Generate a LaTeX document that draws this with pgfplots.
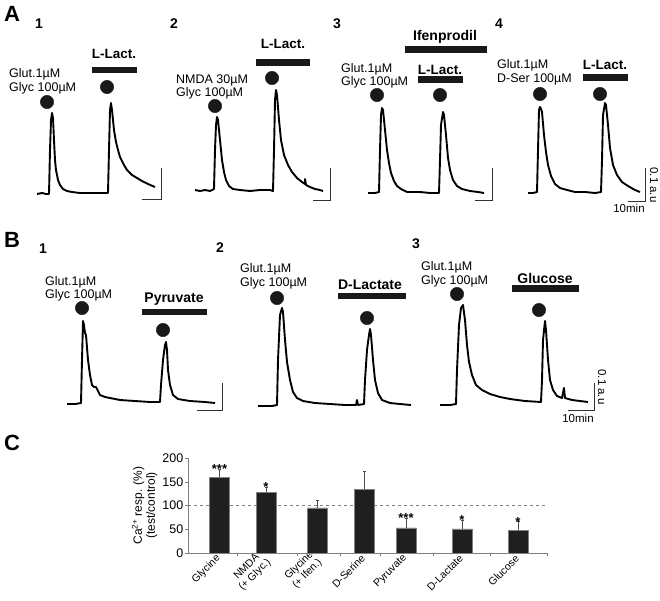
\documentclass[border=0pt]{standalone}
\usepackage{pgfplots}
\pgfplotsset{compat=1.18}
\usepackage{fontspec}
\setmainfont{Liberation Sans}
\newcommand{\panfont}{\fontsize{22}{24}\selectfont\bfseries}
\newcommand{\pnumfont}{\fontsize{14}{16}\selectfont\bfseries}
\newcommand{\drugfont}{\fontsize{14}{16}\selectfont\bfseries}
\newcommand{\lacfont}{\fontsize{13.5}{15}\selectfont\bfseries}
\newcommand{\labfont}{\fontsize{12.5}{14}\selectfont}
\newcommand{\scafont}{\fontsize{11.5}{12}\selectfont}
\begin{document}
\begin{tikzpicture}
\useasboundingbox (0,0) rectangle (660pt,600pt);
\begin{axis}[at={(0pt,0pt)}, anchor=south west, width=660pt, height=600pt,
  scale only axis, hide axis, xmin=0, xmax=660, ymin=0, ymax=600,
  y dir=reverse, clip=false]
% ---------- traces ----------
\pgfplotsset{tr/.style={black, line width=1.9pt, line join=round}}
\pgfplotsset{sb/.style={black!80, line width=0.8pt}}
\pgfplotsset{st/.style={black!90, line width=6.5pt}}
\pgfplotsset{dot/.style={only marks, mark=*, mark size=6.7pt, black!90, mark options={draw=black!90, fill=black!90}}}
% A1
\addplot[tr] coordinates {(37,194)(42,193)(46,194)(49,194)(50,150)(51,120)(52,113)(53,118)(54,140)(55,160)(56,170)(58,180)(60,185)(63,189)(67,191)(72,192)(80,193)(90,193)(100,193)(108,193)(109,150)(110,110)(111,103)(112,110)(114,130)(116,142)(118,150)(120,157)(124,165)(127,170)(132,175)(137,178)(142,181)(148,184)(155,187)};
\addplot[sb] coordinates {(142,199)(161,199)(161,168)};
% A2
\addplot[tr] coordinates {(195,190)(200,191)(205,190)(210,191)(214,189)(215,150)(216,125)(217,117)(218,120)(220,140)(222,160)(224,172)(226,180)(229,186)(233,189)(240,190)(250,191)(260,190)(270,190)(273,191)(274,150)(275,100)(276,90)(277,95)(279,120)(281,140)(284,155)(288,165)(292,172)(297,178)(302,182)(305,184)(305,179)(306,185)(310,187)(315,189)(320,190)(323,191)};
\addplot[sb] coordinates {(313,200)(330,200)(330,168)};
% A3
\addplot[tr] coordinates {(368,193)(375,193)(379,192)(380,150)(381,115)(382,108)(383,110)(385,130)(387,150)(389,163)(391,173)(394,181)(397,186)(401,189)(407,192)(420,192)(430,193)(439,193)(440,160)(441,125)(443,112)(444,115)(446,135)(448,158)(450,170)(453,180)(457,186)(462,189)(470,191)(478,192)(484,193)};
\addplot[sb] coordinates {(475,200)(492,200)(492,168)};
% A4
\addplot[tr] coordinates {(528,193)(533,193)(537,192)(538,150)(539,110)(540,107)(541,109)(542,112)(544,135)(546,152)(548,165)(551,176)(555,184)(560,188)(567,190)(575,192)(585,192)(595,193)(601,192)(602,160)(603,115)(605,103)(606,105)(608,125)(610,148)(613,165)(617,175)(622,182)(628,186)(635,190)(640,192)};
\addplot[sb] coordinates {(628,201)(645,201)(645,168)};
% B1
\addplot[tr] coordinates {(67,404)(75,404)(81,403)(82,360)(83,321)(84,325)(85,333)(86,335)(88,360)(90,375)(92,385)(94,387)(96,387)(98,391)(100,395)(105,397)(110,398)(120,400)(135,401)(150,402)(160,402)(161,385)(163,360)(165,345)(166,342)(167,350)(168,370)(170,385)(173,395)(178,399)(190,401)(205,402)(215,403)};
\addplot[sb] coordinates {(197,410)(222,410)(222,383)};
% B2
\addplot[tr] coordinates {(258,406)(265,406)(272,406)(277,405)(278,360)(280,315)(282,308)(283,312)(285,340)(287,362)(290,380)(293,392)(297,398)(303,401)(315,403)(330,404)(345,405)(356,405)(357,400)(358,405)(364,404)(365,380)(367,350)(369,335)(370,329)(371,335)(373,360)(375,380)(378,393)(382,400)(390,403)(400,404)(411,405)};
% B3
\addplot[tr] coordinates {(440,405)(450,405)(456,404)(457,370)(459,325)(461,308)(463,305)(465,320)(467,345)(469,362)(472,375)(476,385)(482,390)(490,394)(500,397)(510,399)(525,401)(541,402)(542,380)(543,340)(545,321)(546,330)(548,360)(550,380)(553,390)(557,396)(562,398)(564,388)(565,398)(572,400)(580,401)(588,402)};
\addplot[sb] coordinates {(568,410)(594,410)(594,383)};
% stimulus bars
\addplot[st] coordinates {(92,70)(137,70)};
\addplot[st] coordinates {(256,62.5)(310,62.5)};
\addplot[st] coordinates {(405,49.5)(487,49.5)};
\addplot[st] coordinates {(418,79.5)(463,79.5)};
\addplot[st] coordinates {(583,77.5)(628,77.5)};
\addplot[st] coordinates {(142,312)(207,312)};
\addplot[st] coordinates {(338,296)(406,296)};
\addplot[st] coordinates {(512,288.5)(579,288.5)};
% application dots
\addplot[dot] coordinates {(47,102)(107,87)(215,106)(272,78)(377,95)(440,95)(540,94)(600,94)(82,308)(163,330)(277,298)(367,318)(457,294)(539,310)};
% ---------- text ----------
\node[anchor=base west, inner sep=0, font=\panfont] at (axis cs:4,21) {A};
\node[anchor=base west, inner sep=0, font=\panfont] at (axis cs:4,247) {B};
\node[anchor=base west, inner sep=0, font=\panfont] at (axis cs:4,450) {C};
\node[anchor=base west, inner sep=0, font=\pnumfont] at (axis cs:35,28) {1};
\node[anchor=base west, inner sep=0, font=\pnumfont] at (axis cs:170,28) {2};
\node[anchor=base west, inner sep=0, font=\pnumfont] at (axis cs:333,28) {3};
\node[anchor=base west, inner sep=0, font=\pnumfont] at (axis cs:495,28) {4};
\node[anchor=base west, inner sep=0, font=\pnumfont] at (axis cs:39,253) {1};
\node[anchor=base west, inner sep=0, font=\pnumfont] at (axis cs:216,252) {2};
\node[anchor=base west, inner sep=0, font=\pnumfont] at (axis cs:412,248) {3};
% A labels
\node[anchor=base west, inner sep=0, font=\labfont] at (axis cs:9,77) {Glut.1µM};
\node[anchor=base west, inner sep=0, font=\labfont] at (axis cs:9,91) {Glyc 100µM};
\node[anchor=base, inner sep=0, font=\lacfont] at (axis cs:114,58) {L-Lact.};
\node[anchor=base west, inner sep=0, font=\labfont] at (axis cs:176,83) {NMDA 30µM};
\node[anchor=base west, inner sep=0, font=\labfont] at (axis cs:176,96) {Glyc 100µM};
\node[anchor=base, inner sep=0, font=\lacfont] at (axis cs:283,48) {L-Lact.};
\node[anchor=base west, inner sep=0, font=\labfont] at (axis cs:341,72) {Glut.1µM};
\node[anchor=base west, inner sep=0, font=\labfont] at (axis cs:341,85) {Glyc 100µM};
\node[anchor=base, inner sep=0, font=\drugfont] at (axis cs:445,40) {Ifenprodil};
\node[anchor=base, inner sep=0, font=\lacfont] at (axis cs:440,74) {L-Lact.};
\node[anchor=base west, inner sep=0, font=\labfont] at (axis cs:497,68) {Glut.1µM};
\node[anchor=base west, inner sep=0, font=\labfont] at (axis cs:497,82) {D-Ser 100µM};
\node[anchor=base, inner sep=0, font=\lacfont] at (axis cs:605,69) {L-Lact.};
\node[rotate=-90, inner sep=0, font=\scafont] at (axis cs:654,185) {0.1 a.u};
\node[inner sep=0, font=\scafont] at (axis cs:629,208) {10min};
% B labels
\node[anchor=base west, inner sep=0, font=\labfont] at (axis cs:45,285) {Glut.1µM};
\node[anchor=base west, inner sep=0, font=\labfont] at (axis cs:45,298) {Glyc 100µM};
\node[anchor=base, inner sep=0, font=\drugfont] at (axis cs:174,302) {Pyruvate};
\node[anchor=base west, inner sep=0, font=\labfont] at (axis cs:240,272) {Glut.1µM};
\node[anchor=base west, inner sep=0, font=\labfont] at (axis cs:240,286) {Glyc 100µM};
\node[anchor=base, inner sep=0, font=\drugfont] at (axis cs:370,289) {D-Lactate};
\node[anchor=base west, inner sep=0, font=\labfont] at (axis cs:421,270) {Glut.1µM};
\node[anchor=base west, inner sep=0, font=\labfont] at (axis cs:421,284) {Glyc 100µM};
\node[anchor=base, inner sep=0, font=\drugfont] at (axis cs:545,283) {Glucose};
\node[rotate=-90, inner sep=0, font=\scafont] at (axis cs:602,387) {0.1 a.u};
\node[inner sep=0, font=\scafont] at (axis cs:578,418) {10min};
\end{axis}
% ---------- panel C ----------
\begin{axis}[at={(188pt,47pt)}, anchor=south west, width=359pt, height=95pt,
  scale only axis, xmin=188, xmax=547, ymin=0, ymax=200,
  axis x line=bottom, axis y line=left, axis line style={gray, -},
  /pgf/number format/assume math mode=true,
  ytick={0,50,100,150,200},
  yticklabel style={font=\fontsize{12.5}{13}\selectfont, inner sep=1.5pt},
  tick align=outside, major tick length=3pt, tick style={gray},
  xtick={219.5,266,317,364,406,462,518},
  xticklabels={Glycine, NMDA\\(+ Glyc.), Glycine\\(+ Ifen.), D-Serine, Pyruvate, D-Lactate, Glucose},
  xticklabel style={rotate=45, anchor=east, align=center, font=\fontsize{10.5}{11.5}\selectfont, inner sep=1pt},
  x tick style={draw=none},
  extra x ticks={237,297,340,380,433,490,547},
  extra x tick labels={},
  extra x tick style={x tick style={draw=gray}},
  ylabel={Ca\textsuperscript{2+} resp. (\%)\\(test/control)},
  ylabel style={align=center, font=\fontsize{12}{13}\selectfont},
  clip=false]
\addplot[gray, dashed, line width=0.8pt] coordinates {(188,100)(547,100)};
\addplot[ybar, bar width=20, fill=black!88, draw=gray,
  error bars/.cd, y dir=plus, y explicit,
  error bar style={black!70, line width=0.6pt},
  error mark options={rotate=90, mark size=1.5pt, black!70}]
  coordinates {(219.5,160) +- (0,17) (266,128) +- (0,11) (317,95) +- (0,17)
  (364,134) +- (0,39) (406,53) +- (0,21) (462,51) +- (0,19) (518,48) +- (0,19)};
\node[anchor=base, font=\fontsize{13}{14}\selectfont\bfseries, inner sep=0, yshift=-5pt] at (axis cs:219.5,177) {***};
\node[anchor=base, font=\fontsize{13}{14}\selectfont\bfseries, inner sep=0, yshift=-5pt] at (axis cs:266,139) {*};
\node[anchor=base, font=\fontsize{13}{14}\selectfont\bfseries, inner sep=0, yshift=-5pt] at (axis cs:406,74) {***};
\node[anchor=base, font=\fontsize{13}{14}\selectfont\bfseries, inner sep=0, yshift=-5pt] at (axis cs:462,70) {*};
\node[anchor=base, font=\fontsize{13}{14}\selectfont\bfseries, inner sep=0, yshift=-5pt] at (axis cs:518,67) {*};
\end{axis}
\end{tikzpicture}
\end{document}
